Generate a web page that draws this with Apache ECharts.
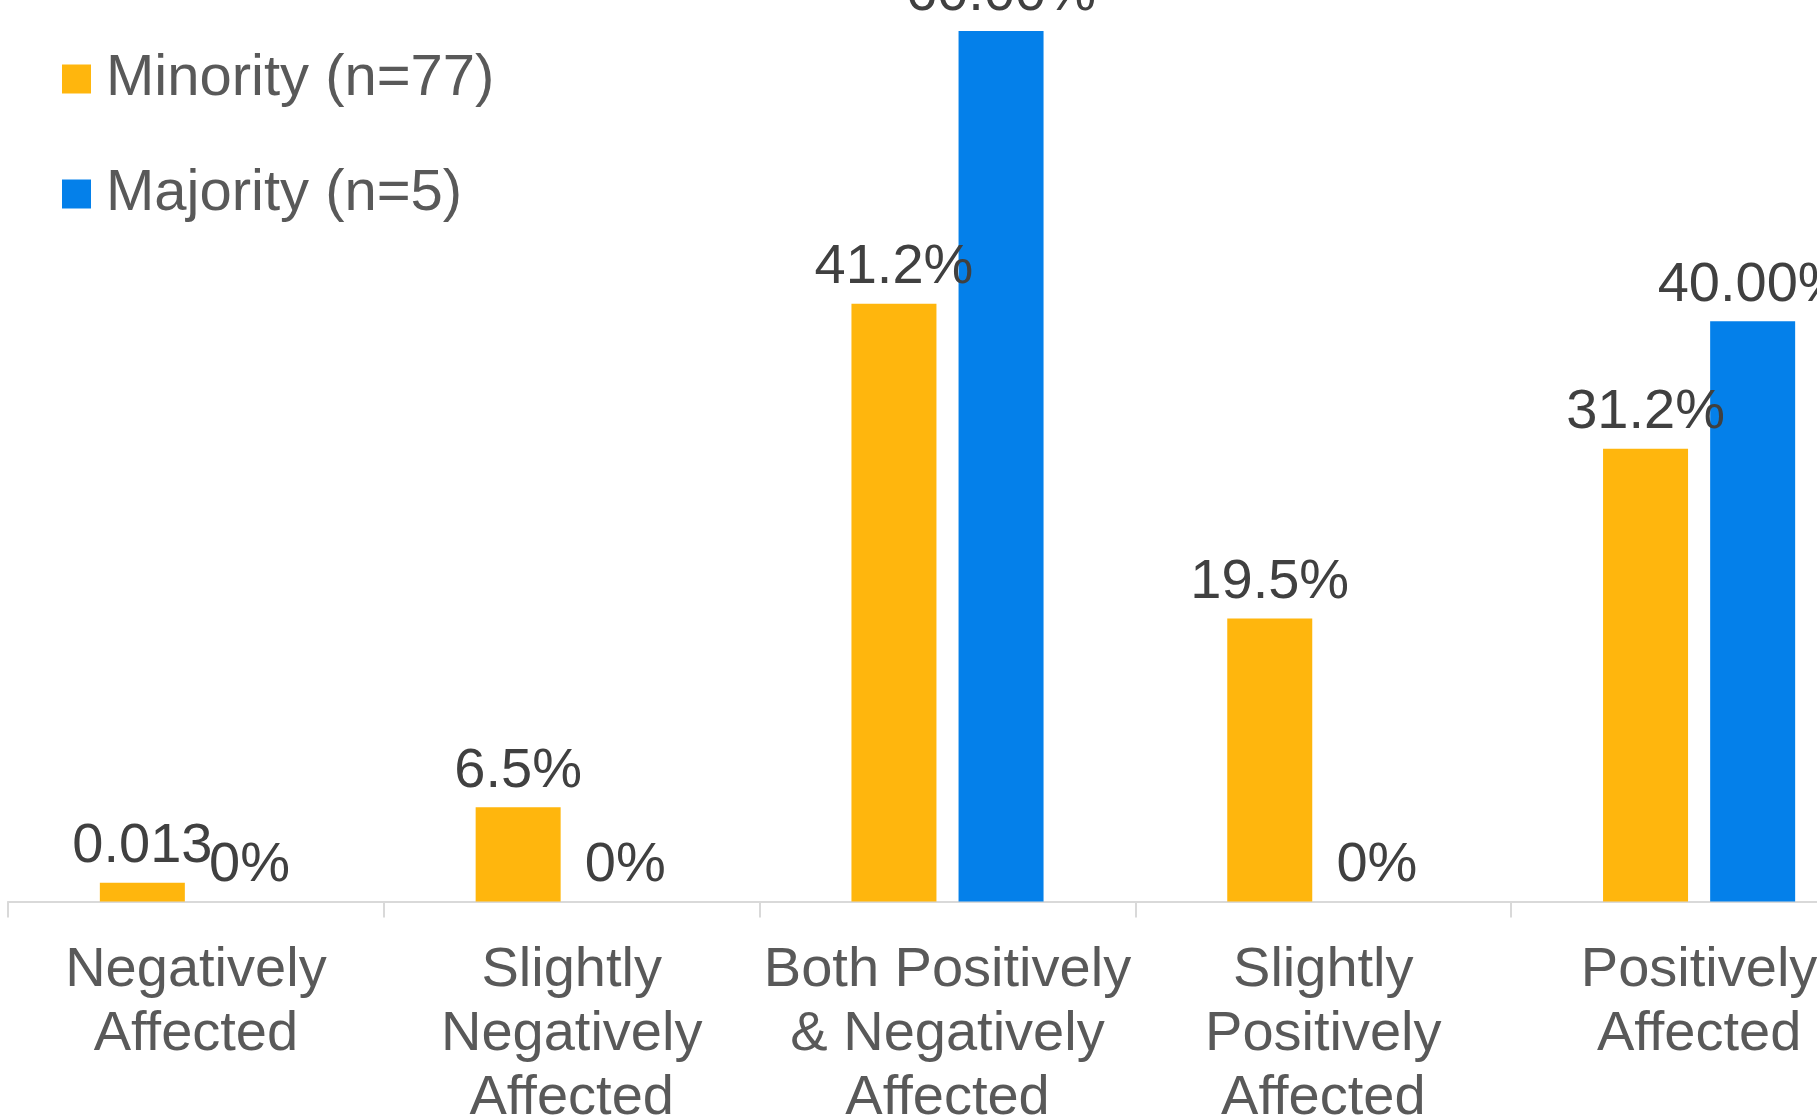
<!DOCTYPE html>
<html>
<head>
<meta charset="utf-8">
<script src="https://cdn.jsdelivr.net/npm/echarts@6/dist/echarts.min.js"></script>
<style>
html,body{margin:0;padding:0;background:#fff;}
#chart{width:1817px;height:1120px;}
</style>
</head>
<body>
<div id="chart"></div>
<script>
const categories = ['Negatively\nAffected', 'Slightly\nNegatively\nAffected', 'Both Positively\n& Negatively\nAffected', 'Slightly\nPositively\nAffected', 'Positively\nAffected'];
const seriesNames = ['Minority (n=77)', 'Majority (n=5)'];
const minorityValues = [1.3, 6.5, 41.2, 19.5, 31.2];
const majorityValues = [0, 0, 60, 0, 40];
const minorityLabels = ['0.013', '6.5%', '41.2%', '19.5%', '31.2%'];
const majorityLabels = ['0%', '0%', '60.00%', '0%', '40.00%'];

const FONT = 'Liberation Sans, Arial, Helvetica, sans-serif';
const chart = echarts.init(document.getElementById('chart'));
const labelStyle = (labels) => ({
  show: true,
  position: 'top',
  distance: 8,
  fontSize: 56,
  fontFamily: FONT,
  color: '#404040',
  formatter: (p) => labels[p.dataIndex]
});
chart.setOption({
  animation: false,
  backgroundColor: '#ffffff',
  legend: {
    orient: 'vertical',
    left: 57,
    top: 45,
    itemWidth: 29,
    itemHeight: 29,
    itemGap: 57,
    icon: 'rect',
    textStyle: { fontSize: 58, fontFamily: FONT, color: '#595959', padding: [0, 0, 0, 10] },
    data: seriesNames
  },
  grid: { left: 8, right: -70, top: 31, bottom: 218.5, containLabel: false, outerBoundsMode: 'none' },
  xAxis: {
    type: 'category',
    data: categories,
    axisLine: { lineStyle: { color: '#d9d9d9', width: 2 } },
    axisTick: { show: true, length: 16, lineStyle: { color: '#d9d9d9', width: 2 } },
    axisLabel: { interval: 0, margin: 37, fontSize: 56, lineHeight: 64, fontFamily: FONT, color: '#595959' }
  },
  yAxis: {
    type: 'value', min: 0, max: 60, show: false,
    splitLine: { show: false }
  },
  series: [
    {
      name: seriesNames[0], type: 'bar', data: minorityValues,
      barWidth: 85, barGap: '26%',
      itemStyle: { color: '#FFB60D' },
      label: labelStyle(minorityLabels)
    },
    {
      name: seriesNames[1], type: 'bar', data: majorityValues,
      barWidth: 85, barGap: '26%',
      itemStyle: { color: '#0480EA' },
      label: labelStyle(majorityLabels)
    }
  ]
});
</script>
</body>
</html>
